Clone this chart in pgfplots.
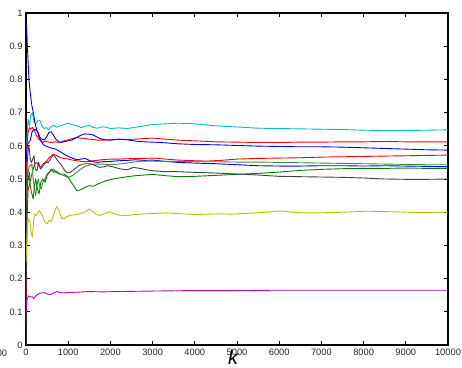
\documentclass[border=0pt]{standalone}
\usepackage{fontspec}
\setmainfont{Liberation Sans}
\usepackage{pgfplots}
\pgfplotsset{compat=1.18}
\definecolor{mcyan}{rgb}{0,0.75,0.75}
\definecolor{mmag}{rgb}{0.75,0,0.75}
\definecolor{myel}{rgb}{0.75,0.75,0}
\definecolor{mblk}{rgb}{0.25,0.25,0.25}
\definecolor{mgrn}{rgb}{0,0.5,0}
\definecolor{mgrnl}{rgb}{0.2,0.58,0.2}
\begin{document}
\begin{tikzpicture}
\begin{axis}[name=ax,
  scale only axis, width=422pt, height=332pt,
  xmin=0, xmax=10000, ymin=0, ymax=1,
  xtick={0,1000,2000,3000,4000,5000,6000,7000,8000,9000,10000},
  ytick={0,0.1,0.2,0.3,0.4,0.5,0.6,0.7,0.8,0.9,1},
  scaled x ticks=false,
  tick align=inside, major tick length=4pt,
  tick style={black, line width=0.7pt},
  axis line style={line width=1.2pt},
  tick label style={font=\fontsize{9.3}{10}\selectfont, text=black!85},
  xticklabel style={/pgf/number format/.cd, fixed, set thousands separator={}, assume math mode=true},
  yticklabel style={/pgf/number format/.cd, fixed, precision=1, assume math mode=true},
  every axis plot/.append style={line width=0.9pt, line join=round},
]
% cyan
\addplot[mcyan] coordinates {(1,0.5)(20,0.62)(50,0.68)(80,0.66)(110,0.69)(150,0.70)(190,0.672)(230,0.665)(280,0.675)(330,0.676)(380,0.66)(430,0.652)(480,0.655)(530,0.648)(600,0.658)(650,0.662)(720,0.656)(800,0.66)(900,0.664)(1000,0.668)(1100,0.664)(1200,0.66)(1300,0.655)(1400,0.658)(1500,0.662)(1600,0.655)(1700,0.653)(1800,0.657)(1900,0.656)(2000,0.652)(2200,0.654)(2400,0.652)(2600,0.656)(2800,0.66)(3000,0.664)(3300,0.666)(3600,0.668)(3900,0.667)(4200,0.664)(4500,0.66)(4800,0.658)(5100,0.656)(5500,0.653)(6000,0.652)(6500,0.651)(7000,0.650)(7500,0.649)(8000,0.647)(8500,0.646)(9000,0.646)(9500,0.647)(10000,0.648)};
% red top
\addplot[red] coordinates {(1,0.5)(20,0.6)(50,0.64)(80,0.655)(110,0.65)(150,0.655)(200,0.645)(250,0.63)(300,0.62)(350,0.615)(400,0.61)(450,0.615)(500,0.612)(600,0.61)(700,0.612)(800,0.61)(900,0.615)(1000,0.618)(1100,0.622)(1200,0.625)(1300,0.623)(1400,0.622)(1500,0.62)(1600,0.619)(1700,0.617)(1800,0.617)(2000,0.618)(2200,0.62)(2400,0.619)(2600,0.62)(2800,0.622)(3000,0.623)(3300,0.62)(3600,0.617)(4000,0.615)(4500,0.612)(5000,0.611)(5500,0.61)(6000,0.61)(6500,0.611)(7000,0.611)(7500,0.612)(8000,0.612)(8500,0.613)(9000,0.612)(9500,0.612)(10000,0.612)};
% blue top
\addplot[blue] coordinates {(1,0.55)(30,0.6)(60,0.61)(100,0.615)(140,0.64)(180,0.65)(230,0.648)(280,0.642)(330,0.625)(380,0.62)(430,0.618)(480,0.625)(540,0.64)(600,0.642)(650,0.632)(720,0.618)(800,0.61)(900,0.612)(1000,0.615)(1100,0.618)(1200,0.625)(1300,0.632)(1400,0.636)(1500,0.635)(1600,0.632)(1700,0.625)(1800,0.62)(1900,0.618)(2000,0.617)(2200,0.62)(2400,0.618)(2600,0.614)(2800,0.612)(3000,0.611)(3300,0.609)(3600,0.606)(4000,0.604)(4500,0.603)(5000,0.601)(5500,0.599)(6000,0.598)(6500,0.597)(7000,0.597)(7500,0.596)(8000,0.594)(8500,0.592)(9000,0.59)(9500,0.588)(10000,0.587)};
% blue lower
\addplot[blue] coordinates {(1,0.97)(15,0.96)(40,0.88)(70,0.8)(100,0.76)(140,0.72)(175,0.70)(210,0.67)(250,0.65)(300,0.63)(350,0.615)(400,0.605)(450,0.6)(500,0.598)(600,0.593)(700,0.59)(800,0.583)(900,0.575)(1000,0.568)(1100,0.563)(1200,0.558)(1300,0.56)(1400,0.562)(1500,0.556)(1600,0.552)(1700,0.55)(1800,0.552)(2000,0.553)(2200,0.555)(2400,0.556)(2600,0.558)(2800,0.556)(3000,0.557)(3300,0.553)(3600,0.55)(4000,0.548)(4500,0.546)(5000,0.543)(5500,0.54)(6000,0.539)(6500,0.539)(7000,0.54)(7500,0.54)(8000,0.539)(8500,0.54)(9000,0.539)(9500,0.538)(10000,0.537)};
% red lower
\addplot[red] coordinates {(1,0.06)(10,0.2)(25,0.38)(50,0.47)(80,0.48)(110,0.5)(150,0.52)(200,0.545)(250,0.55)(300,0.54)(350,0.535)(400,0.545)(450,0.55)(500,0.555)(550,0.565)(600,0.57)(650,0.575)(700,0.572)(800,0.565)(900,0.562)(1000,0.56)(1100,0.557)(1200,0.555)(1300,0.553)(1400,0.552)(1500,0.553)(1600,0.555)(1800,0.558)(2000,0.56)(2200,0.56)(2400,0.561)(2600,0.562)(2800,0.562)(3000,0.563)(3300,0.56)(3600,0.557)(4000,0.555)(4300,0.554)(4600,0.556)(5000,0.56)(5500,0.562)(6000,0.563)(6500,0.564)(7000,0.566)(7500,0.567)(8000,0.568)(8500,0.569)(9000,0.57)(9500,0.571)(10000,0.572)};
% green light
\addplot[mgrnl] coordinates {(1,0.4)(20,0.5)(50,0.52)(80,0.54)(110,0.54)(140,0.545)(170,0.5)(200,0.47)(230,0.45)(260,0.48)(290,0.5)(320,0.48)(360,0.47)(400,0.49)(450,0.5)(500,0.515)(550,0.52)(600,0.525)(650,0.53)(700,0.52)(800,0.515)(900,0.51)(1000,0.505)(1100,0.51)(1200,0.52)(1300,0.53)(1400,0.538)(1500,0.542)(1600,0.545)(1800,0.545)(2000,0.543)(2200,0.545)(2400,0.548)(2600,0.552)(2800,0.554)(3000,0.554)(3300,0.553)(3600,0.553)(4000,0.552)(4500,0.552)(5000,0.551)(5500,0.551)(6000,0.55)(6500,0.549)(7000,0.548)(7500,0.547)(8000,0.546)(8500,0.545)(9000,0.544)(9500,0.543)(10000,0.543)};
% green dark
\addplot[mgrn] coordinates {(1,0.3)(20,0.45)(50,0.5)(80,0.52)(100,0.48)(130,0.46)(170,0.44)(200,0.48)(230,0.50)(270,0.47)(310,0.455)(350,0.49)(400,0.5)(450,0.49)(500,0.51)(550,0.52)(600,0.53)(650,0.52)(700,0.525)(800,0.515)(900,0.515)(1000,0.505)(1100,0.485)(1200,0.465)(1300,0.468)(1400,0.475)(1500,0.48)(1600,0.478)(1700,0.485)(1800,0.49)(1900,0.495)(2000,0.498)(2200,0.503)(2400,0.507)(2600,0.51)(2800,0.512)(3000,0.514)(3300,0.51)(3600,0.507)(4000,0.508)(4500,0.511)(5000,0.514)(5500,0.517)(6000,0.521)(6500,0.526)(7000,0.529)(7500,0.531)(8000,0.532)(8500,0.532)(9000,0.533)(9500,0.532)(10000,0.532)};
% black
\addplot[mblk] coordinates {(1,0.0)(10,0.3)(30,0.55)(60,0.6)(80,0.59)(100,0.56)(130,0.55)(160,0.56)(190,0.57)(220,0.53)(260,0.525)(300,0.55)(340,0.53)(380,0.535)(430,0.545)(480,0.55)(530,0.55)(600,0.565)(650,0.572)(700,0.565)(780,0.55)(850,0.54)(920,0.525)(980,0.518)(1050,0.52)(1150,0.53)(1250,0.54)(1350,0.545)(1450,0.546)(1550,0.545)(1650,0.54)(1750,0.535)(1850,0.537)(1950,0.54)(2100,0.535)(2250,0.53)(2400,0.528)(2550,0.535)(2700,0.532)(2850,0.528)(3000,0.525)(3300,0.522)(3600,0.522)(4000,0.52)(4500,0.518)(5000,0.515)(5500,0.512)(6000,0.508)(6500,0.507)(7000,0.506)(7500,0.505)(8000,0.503)(8500,0.5)(9000,0.499)(9500,0.499)(10000,0.5)};
% yellow
\addplot[myel] coordinates {(1,0.25)(30,0.35)(60,0.38)(95,0.37)(120,0.34)(150,0.325)(180,0.37)(200,0.395)(240,0.39)(280,0.4)(320,0.405)(360,0.395)(400,0.385)(450,0.37)(500,0.365)(550,0.375)(600,0.372)(650,0.39)(700,0.41)(730,0.417)(780,0.405)(845,0.381)(900,0.38)(950,0.385)(1040,0.391)(1150,0.392)(1250,0.395)(1350,0.398)(1450,0.405)(1500,0.41)(1550,0.405)(1650,0.395)(1740,0.39)(1850,0.395)(1970,0.401)(2100,0.395)(2210,0.391)(2380,0.39)(2600,0.393)(2800,0.395)(3000,0.396)(3330,0.398)(3600,0.396)(3960,0.393)(4300,0.394)(4600,0.395)(4900,0.394)(5300,0.397)(5700,0.4)(6020,0.404)(6300,0.4)(6600,0.398)(6900,0.398)(7300,0.399)(7700,0.401)(8070,0.403)(8400,0.402)(8800,0.401)(9200,0.399)(9600,0.399)(10000,0.4)};
% magenta
\addplot[mmag] coordinates {(1,0.1)(15,0.13)(30,0.14)(60,0.148)(100,0.145)(150,0.145)(190,0.14)(230,0.148)(270,0.152)(330,0.156)(430,0.158)(520,0.153)(590,0.152)(650,0.156)(730,0.161)(800,0.158)(900,0.157)(1000,0.158)(1200,0.159)(1500,0.161)(1800,0.16)(2210,0.161)(2700,0.162)(3330,0.163)(4000,0.164)(5000,0.164)(6000,0.165)(7000,0.165)(8000,0.165)(9000,0.165)(10000,0.165)};
\end{axis}
\node[anchor=north, font=\fontsize{9.3}{10}\selectfont, text=black!85] at ([xshift=-24pt,yshift=-1pt]ax.south west) {00};
\node[anchor=north, inner sep=0pt, font=\fontsize{20}{22}\selectfont\itshape] at ([xshift=-4pt,yshift=-5pt]ax.south) {k};
\pgfresetboundingbox
\path[use as bounding box] ([xshift=-26pt,yshift=-22pt]ax.south west) rectangle ([xshift=14pt,yshift=13pt]ax.north east);
\end{tikzpicture}
\end{document}
